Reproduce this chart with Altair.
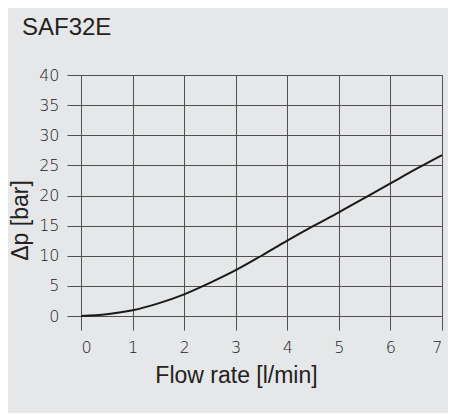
import altair as alt
import pandas as pd

flow = [0, 0.5, 1, 1.5, 2, 2.5, 3, 3.5, 4, 4.5, 5, 5.5, 6, 6.5, 7]
dp = [0, 0.3, 0.95, 2.1, 3.6, 5.5, 7.6, 10.0, 12.5, 14.9, 17.2, 19.6, 22.0, 24.4, 26.7]
x_ticks = [0, 1, 2, 3, 4, 5, 6, 7]
y_ticks = [0, 5, 10, 15, 20, 25, 30, 35, 40]

df = pd.DataFrame({"flow": flow, "dp": dp})

BG = "#e6e7e8"
GRID = "#505050"
TXT = "#222222"

chart = alt.Chart(df).mark_line(
    color="#1a1a1a", strokeWidth=2, interpolate="monotone"
).encode(
    x=alt.X("flow:Q",
            scale=alt.Scale(domain=[0, 7], nice=False, zero=False),
            axis=alt.Axis(values=x_ticks, title="Flow rate [l/min]",
                          grid=True, gridColor=GRID, gridWidth=1,
                          domain=False, tickColor=GRID, tickSize=14, tickWidth=1,
                          labelFont="DejaVu Sans", labelFontSize=16, labelFontWeight=200,
                          labelColor=TXT, labelPadding=9,
                          titleFont="Liberation Sans", titleFontSize=23,
                          titleFontWeight="normal", titleColor="#222222",
                          titleX=155, titleY=66, titleAlign="center",
                          titleBaseline="alphabetic")),
    y=alt.Y("dp:Q",
            scale=alt.Scale(domain=[0, 40], nice=False),
            axis=alt.Axis(values=y_ticks, title="Δp [bar]",
                          grid=True, gridColor=GRID, gridWidth=1,
                          domain=False, tickColor=GRID, tickSize=14, tickWidth=1,
                          labelFont="DejaVu Sans", labelFontSize=16, labelFontWeight=200,
                          labelColor=TXT, labelPadding=8,
                          titleFont="Liberation Sans", titleFontSize=23,
                          titleFontWeight="normal", titleColor="#222222",
                          titleAngle=270, titleX=-54, titleY=145,
                          titleAlign="center", titleBaseline="alphabetic")),
).properties(
    width=361,
    height=241,
    title=alt.TitleParams("SAF32E", anchor="start", frame="group",
                          font="Liberation Sans", fontSize=24, fontWeight="normal",
                          color="#222222", baseline="alphabetic",
                          offset=0, dx=-59, dy=-8),
    background=BG,
    padding={"left": 73, "top": 67, "right": 6, "bottom": 97},
    autosize=alt.AutoSizeParams(type="none"),
).configure_view(
    stroke="#444444", strokeWidth=1
)

chart.save("out.html", embed_options={"renderer": "svg", "actions": False})
